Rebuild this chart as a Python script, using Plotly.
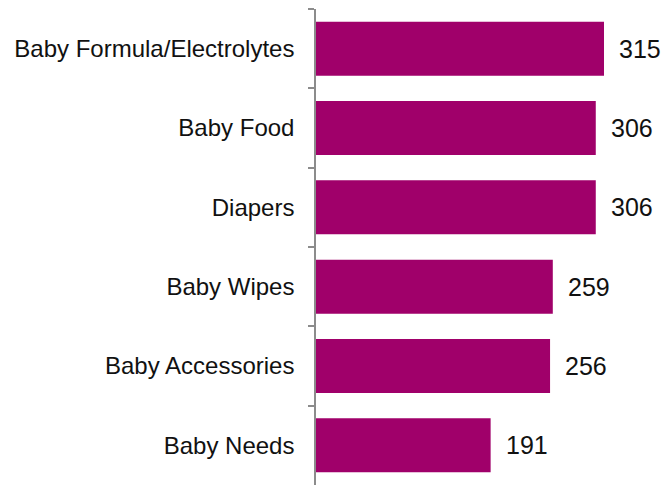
import plotly.graph_objects as go

categories = ["Baby Formula/Electrolytes", "Baby Food", "Diapers", "Baby Wipes", "Baby Accessories", "Baby Needs"]
values = [315, 306, 306, 259, 256, 191]

color = "#A0006A"

fig = go.Figure()
fig.add_trace(go.Bar(
    y=categories, x=values, orientation="h",
    marker=dict(color=color, line=dict(width=0)),
    width=0.68,
))
for c, v in zip(categories, values):
    fig.add_annotation(x=v, y=c, text=str(v), showarrow=False, xanchor="left",
                       xshift=13, font=dict(size=25, color="#111111",
                                            family="Liberation Sans, Arial, sans-serif"))

fig.update_layout(
    width=667, height=485,
    margin=dict(l=316, r=31, t=9, b=0),
    plot_bgcolor="white", paper_bgcolor="white",
    showlegend=False,
    font=dict(family="Liberation Sans, Arial, sans-serif", size=24, color="#111111"),
)
fig.update_xaxes(range=[0, 350], visible=False)
fig.update_yaxes(
    type="category", autorange="reversed",
    showline=True, linecolor="#8c8c8c", linewidth=1.5,
    ticks="outside", ticklen=6, tickcolor="#8c8c8c", tickwidth=1.5,
    tickson="boundaries", ticklabelstandoff=15,
    showgrid=False, zeroline=False,
)
fig.write_html("out.html")
